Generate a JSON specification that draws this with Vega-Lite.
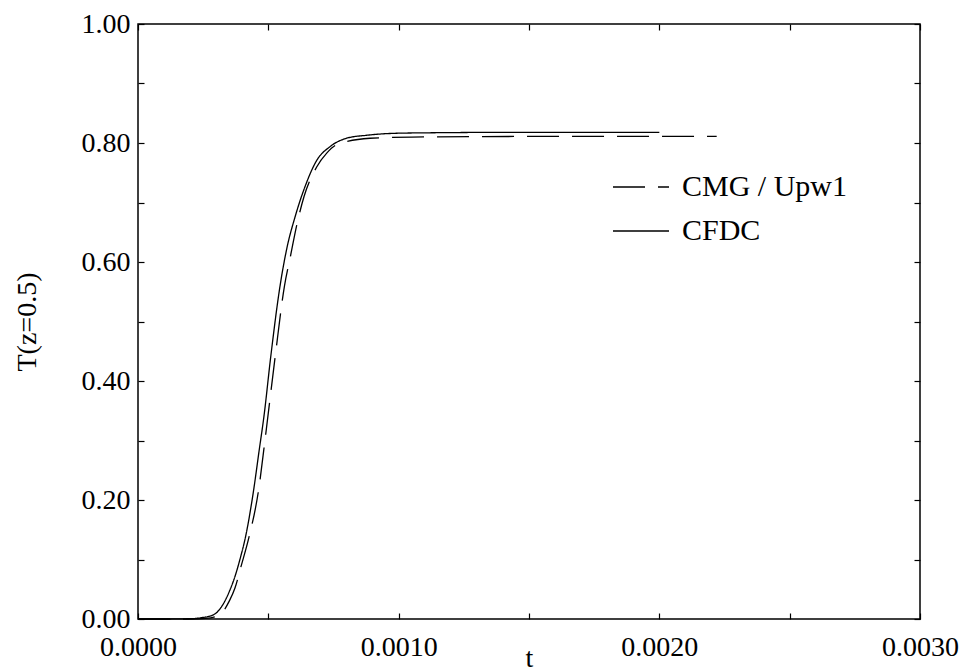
{
  "$schema": "https://vega.github.io/schema/vega-lite/v6.json",
  "width": 782,
  "height": 595,
  "autosize": {"type": "none"},
  "padding": {"left": 138, "top": 24, "right": 54, "bottom": 53},
  "background": "white",
  "config": {
    "view": {"stroke": "black", "strokeWidth": 1.5},
    "font": "Liberation Serif",
    "axis": {
      "domain": false,
      "grid": false,
      "tickColor": "black",
      "tickSize": -6,
      "tickWidth": 1.2,
      "labelFont": "Liberation Serif",
      "labelFontSize": 28,
      "labelColor": "black",
      "titleFont": "Liberation Serif",
      "titleFontSize": 28,
      "titleFontWeight": "normal",
      "titleColor": "black",
      "labelFlush": false,
      "labelOverlap": false
    },
    "legend": {"labelFont": "Liberation Serif"}
  },
  "data": {
    "values": [
      {"t": 0.0, "T": 0.0, "s": "CFDC"},
      {"t": 0.0001, "T": 0.0, "s": "CFDC"},
      {"t": 0.0002, "T": 0.0005, "s": "CFDC"},
      {"t": 0.00024, "T": 0.002, "s": "CFDC"},
      {"t": 0.000289, "T": 0.007, "s": "CFDC"},
      {"t": 0.000321, "T": 0.021, "s": "CFDC"},
      {"t": 0.000353, "T": 0.049, "s": "CFDC"},
      {"t": 0.000376, "T": 0.077, "s": "CFDC"},
      {"t": 0.000394, "T": 0.105, "s": "CFDC"},
      {"t": 0.00041, "T": 0.133, "s": "CFDC"},
      {"t": 0.000442, "T": 0.212, "s": "CFDC"},
      {"t": 0.000465, "T": 0.284, "s": "CFDC"},
      {"t": 0.000483, "T": 0.34, "s": "CFDC"},
      {"t": 0.000509, "T": 0.44, "s": "CFDC"},
      {"t": 0.000545, "T": 0.56, "s": "CFDC"},
      {"t": 0.000572, "T": 0.625, "s": "CFDC"},
      {"t": 0.000602, "T": 0.675, "s": "CFDC"},
      {"t": 0.000641, "T": 0.727, "s": "CFDC"},
      {"t": 0.000686, "T": 0.771, "s": "CFDC"},
      {"t": 0.000737, "T": 0.794, "s": "CFDC"},
      {"t": 0.0008, "T": 0.808, "s": "CFDC"},
      {"t": 0.000877, "T": 0.813, "s": "CFDC"},
      {"t": 0.000967, "T": 0.816, "s": "CFDC"},
      {"t": 0.00108, "T": 0.817, "s": "CFDC"},
      {"t": 0.0015, "T": 0.818, "s": "CFDC"},
      {"t": 0.002, "T": 0.818, "s": "CFDC"},
      {"t": 0.0, "T": 0.0, "s": "CMG / Upw1"},
      {"t": 0.0001, "T": 0.0, "s": "CMG / Upw1"},
      {"t": 0.0002, "T": 0.0, "s": "CMG / Upw1"},
      {"t": 0.00026, "T": 0.001, "s": "CMG / Upw1"},
      {"t": 0.000302, "T": 0.005, "s": "CMG / Upw1"},
      {"t": 0.000327, "T": 0.013, "s": "CMG / Upw1"},
      {"t": 0.00035, "T": 0.03, "s": "CMG / Upw1"},
      {"t": 0.000372, "T": 0.052, "s": "CMG / Upw1"},
      {"t": 0.000395, "T": 0.088, "s": "CMG / Upw1"},
      {"t": 0.000426, "T": 0.138, "s": "CMG / Upw1"},
      {"t": 0.000462, "T": 0.215, "s": "CMG / Upw1"},
      {"t": 0.000487, "T": 0.3, "s": "CMG / Upw1"},
      {"t": 0.000526, "T": 0.44, "s": "CMG / Upw1"},
      {"t": 0.000562, "T": 0.56, "s": "CMG / Upw1"},
      {"t": 0.000585, "T": 0.61, "s": "CMG / Upw1"},
      {"t": 0.000609, "T": 0.662, "s": "CMG / Upw1"},
      {"t": 0.000637, "T": 0.71, "s": "CMG / Upw1"},
      {"t": 0.000686, "T": 0.76, "s": "CMG / Upw1"},
      {"t": 0.000724, "T": 0.783, "s": "CMG / Upw1"},
      {"t": 0.000762, "T": 0.797, "s": "CMG / Upw1"},
      {"t": 0.00089, "T": 0.808, "s": "CMG / Upw1"},
      {"t": 0.00105, "T": 0.81, "s": "CMG / Upw1"},
      {"t": 0.0015, "T": 0.811, "s": "CMG / Upw1"},
      {"t": 0.00222, "T": 0.811, "s": "CMG / Upw1"}
    ]
  },
  "layer": [
    {
      "mark": {"type": "line", "color": "black", "strokeWidth": 1.3, "interpolate": "monotone"},
      "encoding": {
        "x": {
          "field": "t", "type": "quantitative",
          "scale": {"domain": [0, 0.003], "nice": false, "zero": false},
          "axis": {
            "orient": "bottom",
            "values": [0, 0.0005, 0.001, 0.0015, 0.002, 0.0025, 0.003],
            "labelExpr": "round(datum.value*2000) % 2 === 0 ? format(datum.value, '.4f') : ''",
            "labelPadding": 20,
            "title": "t",
            "titlePadding": -17
          }
        },
        "y": {
          "field": "T", "type": "quantitative",
          "scale": {"domain": [0, 1], "nice": false},
          "axis": {
            "orient": "left",
            "values": [0, 0.1, 0.2, 0.3, 0.4, 0.5, 0.6, 0.7, 0.8, 0.9, 1.0],
            "labelExpr": "round(datum.value*10) % 2 === 0 ? format(datum.value, '.2f') : ''",
            "labelPadding": 14,
            "title": "T(z=0.5)",
            "titlePadding": 40
          }
        },
        "strokeDash": {
          "field": "s", "type": "nominal",
          "scale": {"domain": ["CMG / Upw1", "CFDC"], "range": [[32, 13], [1, 0]]},
          "legend": {
            "title": null,
            "orient": "none",
            "legendX": 474,
            "legendY": 134,
            "symbolType": "stroke",
            "symbolSize": 3136,
            "symbolStrokeColor": "black",
            "symbolStrokeWidth": 1.3,
            "labelFont": "Liberation Serif",
            "labelFontSize": 30,
            "labelLimit": 400,
            "labelColor": "black",
            "labelOffset": 12,
            "rowPadding": 0
          }
        }
      }
    },
    {
      "mark": {"type": "line", "opacity": 0},
      "encoding": {
        "x": {
          "field": "t", "type": "quantitative",
          "axis": {
            "orient": "top",
            "values": [0, 0.0005, 0.001, 0.0015, 0.002, 0.0025, 0.003],
            "labels": false,
            "title": null
          }
        },
        "y": {
          "field": "T", "type": "quantitative",
          "axis": {
            "orient": "right",
            "values": [0, 0.1, 0.2, 0.3, 0.4, 0.5, 0.6, 0.7, 0.8, 0.9, 1.0],
            "labels": false,
            "title": null
          }
        },
        "detail": {"field": "s", "type": "nominal"}
      }
    }
  ]
}
